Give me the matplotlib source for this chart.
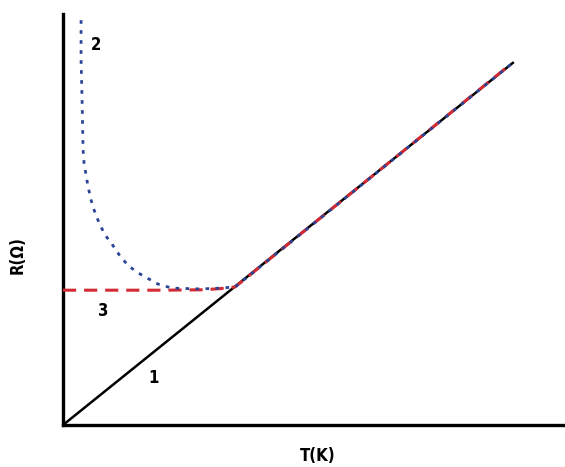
import matplotlib.pyplot as plt

plt.rcParams['font.family'] = ['DejaVu Sans']
plt.rcParams['font.stretch'] = 'condensed'

# curve 1: pure metal, linear R(T)
x1 = [0.0, 8.98]
y1 = [0.0, 8.83]

# curve 2: upturn at low T
x2 = [0.36, 0.36, 0.38, 0.40, 0.42, 0.50, 0.56, 0.62, 0.72, 0.84, 0.96, 1.12,
      1.29, 1.47, 1.67, 1.89, 2.17, 2.73, 3.13, 3.43, 8.98]
y2 = [9.85, 8.88, 7.91, 6.69, 6.37, 5.79, 5.47, 5.23, 4.91, 4.62, 4.43, 4.14,
      3.89, 3.72, 3.58, 3.43, 3.33, 3.31, 3.33, 3.36, 8.83]

# curve 3: residual resistance plateau
x3 = [0.0, 2.0, 2.8, 3.15, 3.43, 8.92]
y3 = [3.28, 3.28, 3.29, 3.32, 3.36, 8.78]

labels = ['1', '2', '3']
label_x = [1.80, 0.66, 0.80]
label_y = [1.14, 9.25, 2.77]

fig = plt.figure(figsize=(5.65, 4.67), dpi=100)
ax = fig.add_axes([63 / 565, 42 / 467, 502 / 565, 411 / 467])
ax.set_xlim(0, 10)
ax.set_ylim(0, 10)

ax.plot(x1, y1, color='black', lw=1.8, solid_capstyle='butt', zorder=2)
ax.plot(x3, y3, color='#d42a33', lw=2.2, dashes=(4.3, 2.6), zorder=3)
ax.plot(x2, y2, color='#2a4596', lw=2.0, dashes=(1.3, 2.3), zorder=4)

for t, lx, ly in zip(labels, label_x, label_y):
    ax.text(lx, ly, t, fontsize=12, fontweight='bold', ha='center', va='center')

for s in ['top', 'right']:
    ax.spines[s].set_visible(False)
for s in ['left', 'bottom']:
    ax.spines[s].set_linewidth(2.4)
ax.set_xticks([])
ax.set_yticks([])

fig.text(318 / 565, 1 - 456 / 467, 'T(K)', fontsize=12, fontweight='bold',
         ha='center', va='center')
fig.text(18 / 565, 1 - 255 / 467, 'R(Ω)', fontsize=12, fontweight='bold',
         ha='center', va='center', rotation=90)

fig.savefig('out.png', dpi=100)
